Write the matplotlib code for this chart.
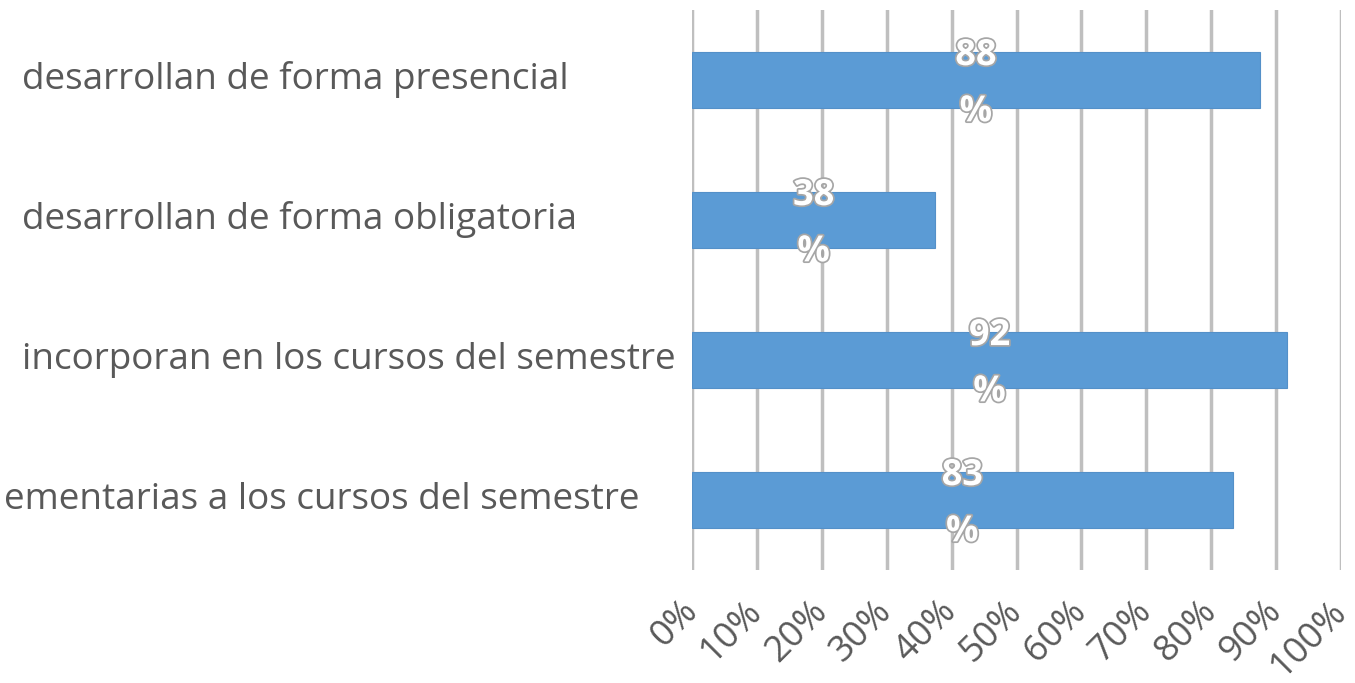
import matplotlib
matplotlib.use("Agg")
import matplotlib.pyplot as plt
import matplotlib.patheffects as pe
from matplotlib.transforms import blended_transform_factory

categories = [
    "desarrollan de forma presencial",
    "desarrollan de forma obligatoria",
    "incorporan en los cursos del semestre",
    "ementarias a los cursos del semestre",
]
values = [87.5, 37.5, 91.7, 83.3]
value_labels = ["88\n%", "38\n%", "92\n%", "83\n%"]
xticks = [0, 10, 20, 30, 40, 50, 60, 70, 80, 90, 100]
xtick_labels = ["0%", "10%", "20%", "30%", "40%", "50%", "60%", "70%", "80%", "90%", "100%"]

W, H = 1355, 683
fig = plt.figure(figsize=(W / 100, H / 100), dpi=100)
ax = fig.add_axes([692 / W, 1 - 570 / H, (1341 - 692) / W, 560 / H])

ypos = list(range(len(categories)))
ax.barh(ypos, values, height=0.4, color="#5B9BD5", edgecolor="#5490C8", linewidth=0.8, zorder=3)
ax.set_ylim(len(categories) - 0.5, -0.5)
ax.set_xlim(0, 100)

ax.set_xticks(xticks)
ax.set_xticklabels(xtick_labels, rotation=45, ha="right", va="center", rotation_mode="anchor",
                   fontsize=26, color="#595959", family="Open Sans")
ax.tick_params(axis="x", length=0, pad=26)
ax.set_yticks([])
ax.grid(axis="x", color="#BFBFBF", linewidth=2.5, zorder=0)
for s in ax.spines.values():
    s.set_visible(False)

fig_px = blended_transform_factory(fig.dpi_scale_trans, ax.transData)
for i, (cat, v, lab) in enumerate(zip(categories, values, value_labels)):
    if i < 3:
        ax.text(22 / 100, i, cat, transform=fig_px, ha="left", va="center",
                fontsize=26.6, color="#595959", family="Open Sans")
    else:
        ax.text(640 / 100, i, cat, transform=fig_px, ha="right", va="center",
                fontsize=26.6, color="#595959", family="Open Sans")
    t = ax.text(v / 2, i + 0.03, lab, ha="center", va="center", fontsize=26, fontweight="bold",
                color="white", family="Open Sans", linespacing=1.75, zorder=5)
    t.set_path_effects([pe.withStroke(linewidth=2.5, foreground="#A6A6A6")])

fig.savefig("out.png", dpi=100)
